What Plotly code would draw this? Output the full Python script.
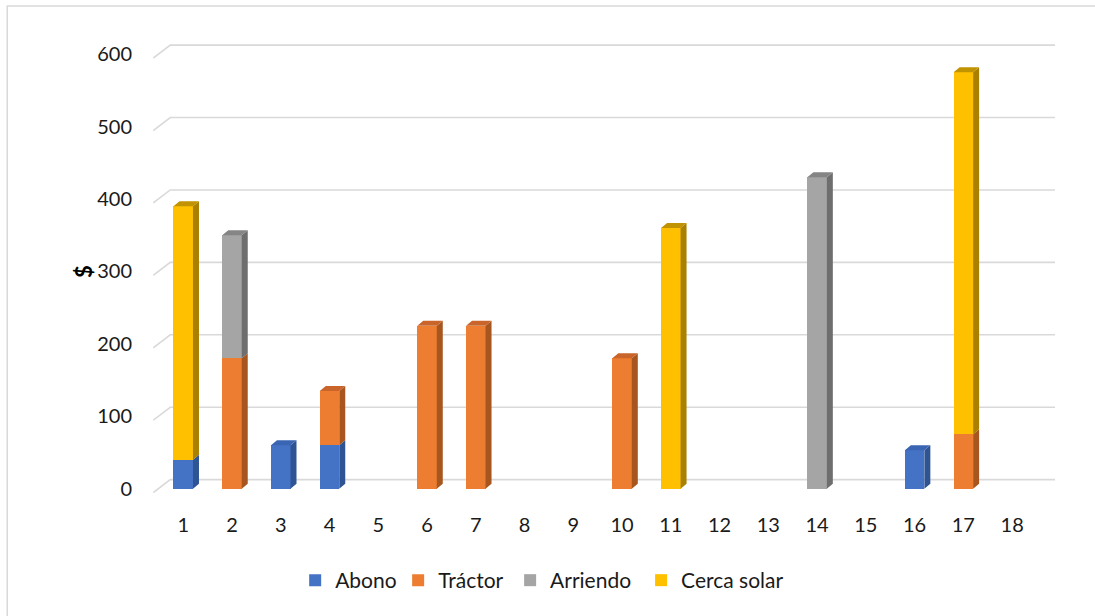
import plotly.graph_objects as go

categories = list(range(1, 19))
abono = [40, 0, 60, 60, 0, 0, 0, 0, 0, 0, 0, 0, 0, 0, 0, 53, 0, 0]
tractor = [0, 180, 0, 75, 0, 225, 225, 0, 0, 180, 0, 0, 0, 0, 0, 0, 75, 0]
arriendo = [0, 170, 0, 0, 0, 0, 0, 0, 0, 0, 0, 0, 0, 430, 0, 0, 0, 0]
cerca = [350, 0, 0, 0, 0, 0, 0, 0, 0, 0, 360, 0, 0, 0, 0, 0, 500, 0]
y_ticks = [0, 100, 200, 300, 400, 500, 600]

series = [
    ("Abono", abono, "#4472C4", "#2F5494", "#3A65B2"),
    ("Tráctor", tractor, "#ED7D31", "#A8561F", "#C9652A"),
    ("Arriendo", arriendo, "#A5A5A5", "#6E6E6E", "#858585"),
    ("Cerca solar", cerca, "#FFC000", "#AA8000", "#C29300"),
]
# pixel x where each legend text starts in the reference
legend_text_x = [335, 438, 550, 681]

BAR_W = 0.4
DX = 0.123   # depth offset (x data units)
DY = 6.9     # depth offset (y data units)

L, R, T, B = 152.8, 39, 36, 122.6
W, H = 1095, 616
pw, ph = W - L - R, H - T - B

def px(xpix):
    return (xpix - L) / pw

def py(ypix):
    return (H - B - ypix) / ph

fig = go.Figure()

legend_names = ["legend", "legend2", "legend3", "legend4"]
for k, (name, vals, col, _, _) in enumerate(series):
    fig.add_trace(go.Bar(
        x=categories, y=vals, name=name, width=BAR_W, legend=legend_names[k],
        marker=dict(color=col, line=dict(width=0)), hoverinfo="skip"))

# side and top faces computed from the data
tops = [0.0] * len(categories)
for name, vals, _, _, _ in series:
    for i, v in enumerate(vals):
        tops[i] += v
cum = [0.0] * len(categories)
for name, vals, col, side_col, top_col in series:
    sx, sy, tx, ty = [], [], [], []
    for i, v in enumerate(vals):
        if v <= 0:
            continue
        c = categories[i]
        y0, y1 = cum[i], cum[i] + v
        xl, xr = c - BAR_W / 2, c + BAR_W / 2
        sx += [xr, xr + DX, xr + DX, xr, xr, None]
        sy += [y0, y0 + DY, y1 + DY, y1, y0, None]
        if abs(y1 - tops[i]) < 1e-9:
            tx += [xl, xl + DX, xr + DX, xr, xl, None]
            ty += [y1, y1 + DY, y1 + DY, y1, y1, None]
        cum[i] = y1
    fig.add_trace(go.Scatter(x=sx, y=sy, mode="lines", fill="toself",
                             fillcolor=side_col, line=dict(width=0, color=side_col),
                             showlegend=False, hoverinfo="skip"))
    if tx:
        fig.add_trace(go.Scatter(x=tx, y=ty, mode="lines", fill="toself",
                                 fillcolor=top_col, line=dict(width=0, color=top_col),
                                 showlegend=False, hoverinfo="skip"))

# back-wall gridlines (3D look), drawn below the bars
GX_FRONT, GX_BACK, GX_END = 0.385, 0.734, 18.88
shapes = []
for v in y_ticks:
    shapes.append(dict(type="path", xref="x", yref="y", layer="below",
                       path=f"M {GX_FRONT},{v - 5.5} L {GX_BACK},{v + 12.4} L {GX_END},{v + 12.4}",
                       line=dict(color="#D9D9D9", width=1.6)))
shapes.append(dict(type="rect", xref="paper", yref="paper",
                   x0=px(7), x1=px(1110), y0=py(6), y1=py(630),
                   line=dict(color="#D9D9D9", width=1.5), fillcolor="rgba(0,0,0,0)", layer="below"))

legend_common = dict(orientation="h", yanchor="middle", xanchor="left",
                     font=dict(size=21), itemwidth=30, bgcolor="rgba(0,0,0,0)", borderwidth=0)
layout_legends = {}
for k, lname in enumerate(legend_names):
    layout_legends[lname] = dict(legend_common, x=px(legend_text_x[k] - 40), y=py(581))

fig.update_layout(
    width=W, height=H,
    margin=dict(l=L, r=R, t=T, b=B, pad=0),
    barmode="stack",
    paper_bgcolor="white", plot_bgcolor="white",
    font=dict(family="Lato, Carlito, sans-serif", size=20, color="#1a1a1a"),
    xaxis=dict(range=[0.38, 18.9], tickvals=categories, ticktext=[str(c) for c in categories],
               showgrid=False, zeroline=False, showline=False,
               ticks="outside", ticklen=14, tickcolor="rgba(0,0,0,0)",
               tickfont=dict(size=20)),
    yaxis=dict(range=[-6, 625], tickvals=y_ticks, showgrid=False, zeroline=False,
               showline=False, ticks="outside", ticklen=16, tickcolor="rgba(0,0,0,0)",
               tickfont=dict(size=20)),
    showlegend=True,
    annotations=[dict(text="<b>$</b>", x=px(84), y=py(272), xref="paper", yref="paper",
                      xanchor="center", yanchor="middle",
                      showarrow=False, textangle=-90, font=dict(size=22, color="#000000"))],
    shapes=shapes,
    **layout_legends,
)

fig.write_html("out.html")
